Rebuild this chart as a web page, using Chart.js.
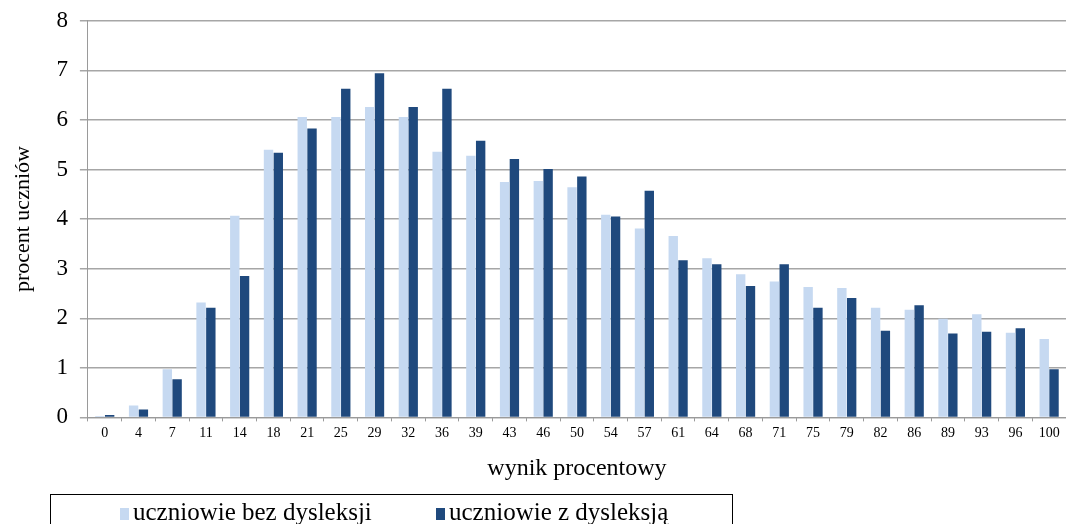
<!DOCTYPE html>
<html>
<head>
<meta charset="utf-8">
<script src="https://cdn.jsdelivr.net/npm/chart.js@4.4.1/dist/chart.umd.min.js"></script>
<style>
  html, body { margin: 0; padding: 0; background: #fff; overflow: hidden; }
  #wrap { position: relative; width: 1066px; height: 524px; overflow: hidden; }
  #scoreChart { position: absolute; left: 0; top: -5px; }
  #legendBox {
    position: absolute; left: 50px; top: 494px; width: 683px; height: 60px;
    border: 1px solid #000; box-sizing: border-box;
    font-family: "Liberation Serif", "Times New Roman", serif; font-size: 25px; color: #000;
  }
  .item { position: absolute; top: 3px; white-space: nowrap; }
  .sw { display: inline-block; width: 9px; height: 12px; margin-right: 4px; vertical-align: 0px; }
</style>
</head>
<body>
<div id="wrap">
  <canvas id="scoreChart" width="1066" height="529"></canvas>
  <div id="legendBox"></div>
</div>
<script>
// categories (wynik procentowy)
const categories = ['0', '4', '7', '11', '14', '18', '21', '25', '29', '32', '36', '39', '43', '46', '50',
  '54', '57', '61', '64', '68', '71', '75', '79', '82', '86', '89', '93', '96', '100'];

// uczniowie bez dysleksji
const bezDysleksji = [0.03, 0.24, 0.97, 2.32, 4.07, 5.40, 6.06, 6.06, 6.26, 6.06, 5.36, 5.28, 4.75, 4.77, 4.64,
  4.09, 3.81, 3.66, 3.21, 2.89, 2.74, 2.63, 2.61, 2.21, 2.17, 1.99, 2.08, 1.71, 1.58];

// uczniowie z dysleksją
const zDysleksja = [0.05, 0.16, 0.77, 2.21, 2.85, 5.34, 5.83, 6.63, 6.94, 6.26, 6.63, 5.58, 5.21, 5.01, 4.86,
  4.05, 4.57, 3.17, 3.09, 2.65, 3.09, 2.21, 2.41, 1.75, 2.26, 1.69, 1.73, 1.80, 0.97];

const seriesNames = ['uczniowie bez dysleksji', 'uczniowie z dysleksją'];
const seriesColors = ['#C6D9F1', '#1F497D'];

const serif = '"Liberation Serif", "Times New Roman", serif';

const ctx = document.getElementById('scoreChart');

const scoreChart = new Chart(ctx, {
  type: 'bar',
  data: {
    labels: categories,
    datasets: [{
      label: seriesNames[0],
      data: bezDysleksji,
      backgroundColor: seriesColors[0]
    }, {
      label: seriesNames[1],
      data: zDysleksja,
      backgroundColor: seriesColors[1]
    }]
  },
  options: {
    responsive: false,
    animation: false,
    layout: { padding: { top: 0, right: 0, bottom: 41, left: 10 } },
    datasets: {
      bar: { categoryPercentage: 0.58, barPercentage: 0.96 }
    },
    plugins: {
      legend: { display: false },
      tooltip: { enabled: false }
    },
    scales: {
      x: {
        grid: {
          display: true,
          drawOnChartArea: false,
          drawTicks: true,
          tickLength: 4,
          color: '#9a9a9a',
          offset: true
        },
        border: { color: '#9a9a9a', width: 1 },
        ticks: {
          color: '#000',
          font: { family: serif, size: 14 },
          maxRotation: 0,
          autoSkip: false,
          padding: 4
        },
        title: {
          display: true,
          text: 'wynik procentowy',
          color: '#000',
          font: { family: serif, size: 24 },
          padding: { top: 8, bottom: 0 }
        }
      },
      y: {
        min: 0,
        max: 8,
        ticks: {
          stepSize: 1,
          color: '#000',
          font: { family: serif, size: 23 },
          padding: 12
        },
        grid: {
          color: '#a6a6a6',
          lineWidth: 1.5,
          drawTicks: true,
          tickLength: 8
        },
        border: { color: '#9a9a9a', width: 1 },
        title: {
          display: true,
          text: 'procent uczniów',
          color: '#000',
          font: { family: serif, size: 22 },
          padding: { top: 0, bottom: 8 }
        }
      }
    }
  }
});

// legend in a box below the chart
const legendBox = document.getElementById('legendBox');
const legendLeft = [69, 385];
seriesNames.forEach(function(name, i) {
  const item = document.createElement('div');
  item.className = 'item';
  item.style.left = legendLeft[i] + 'px';
  item.innerHTML = '<span class="sw" style="background:' + seriesColors[i] + '"></span>' + name;
  legendBox.appendChild(item);
});
</script>
</body>
</html>
